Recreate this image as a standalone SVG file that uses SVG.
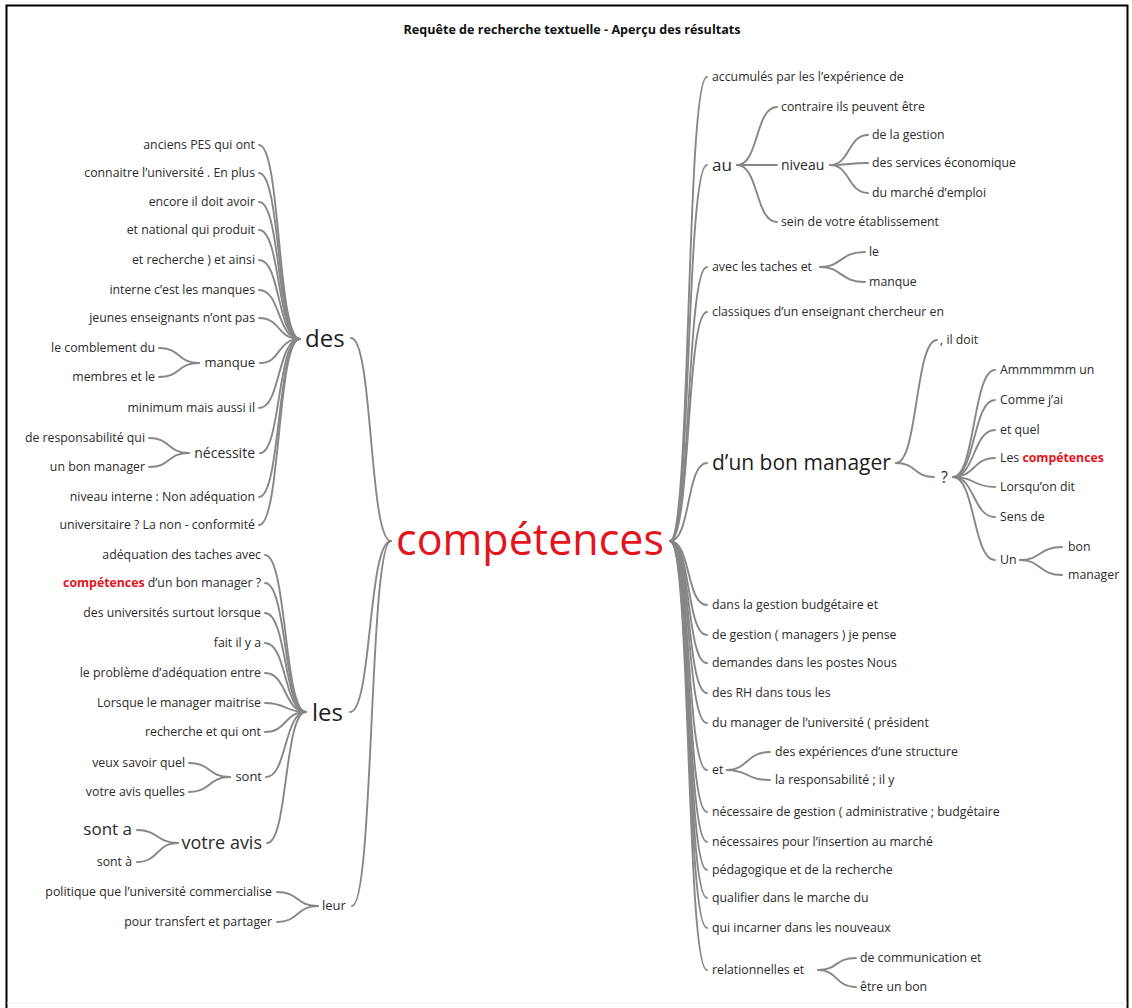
<svg xmlns="http://www.w3.org/2000/svg" width="1132" height="1008" viewBox="0 0 1132 1008">
<style>
text { font-family: "Open Sans", "Noto Sans", sans-serif; fill: #2b2b2b; font-size: 12.3px; }
.e { text-anchor: end; }
.s13 { font-size: 13px; }
.s14 { font-size: 14px; }
.s17 { font-size: 17px; }
.s18 { font-size: 18px; }
.big { font-size: 24px; fill: #1e1e1e; }
.mid { font-size: 21px; fill: #1e1e1e; }
.hl { fill: #e3141b; font-weight: bold; }
.title { font-weight: bold; font-size: 12.6px; fill: #111; text-anchor: middle; }
.center { font-size: 43px; fill: #e3141b; text-anchor: middle; }
#connectors path { fill: none; stroke: #878787; stroke-width: 1.9; stroke-linecap: round; }
.frame { stroke: #000; stroke-width: 2; fill: none; }
</style>
<rect width="1132" height="1008" fill="#fff"/>
<path class="frame" d="M6.5 1008 V5.5 H1127.5 V1008"/>
<line x1="7" y1="1003" x2="1127" y2="1003" stroke="#eee" stroke-width="1"/>
<text class="title" x="572" y="34">Requête de recherche textuelle - Aperçu des résultats</text>

<g id="connectors">
<!-- des leaves -->
<path d="M259 145 C281 145 277 339 300 339"/>
<path d="M259 173 C281 173 277 339 300 339"/>
<path d="M259 202 C281 202 277 339 300 339"/>
<path d="M259 230 C281 230 277 339 300 339"/>
<path d="M259 260 C281 260 277 339 300 339"/>
<path d="M259 290 C281 290 277 339 300 339"/>
<path d="M259 318 C281 318 277 339 300 339"/>
<path d="M260 363 C281 363 277 339 300 339"/>
<path d="M259 408 C281 408 277 339 300 339"/>
<path d="M260 453 C281 453 277 339 300 339"/>
<path d="M259 497 C281 497 277 339 300 339"/>
<path d="M259 525 C281 525 277 339 300 339"/>
<path d="M159 348 C181 348 177 363 199 363"/>
<path d="M159 377 C181 377 177 363 199 363"/>
<path d="M149 438 C171 438 167 453 189 453"/>
<path d="M149 467 C171 467 167 453 189 453"/>
<!-- les leaves -->
<path d="M265 555 C287 555 284 712 306 712"/>
<path d="M265 583 C287 583 284 712 306 712"/>
<path d="M265 613 C287 613 284 712 306 712"/>
<path d="M265 643 C287 643 284 712 306 712"/>
<path d="M265 673 C287 673 284 712 306 712"/>
<path d="M265 703 C287 703 284 712 306 712"/>
<path d="M265 732 C287 732 284 712 306 712"/>
<path d="M266 777 C287 777 284 712 306 712"/>
<path d="M267 843 C288 843 284 712 306 712"/>
<path d="M189 763 C211 763 208 777 230 777"/>
<path d="M189 792 C211 792 208 777 230 777"/>
<path d="M137 830 C159 830 156 843 178 843"/>
<path d="M137 862 C159 862 156 843 178 843"/>
<path d="M277 892 C299 892 296 906 318 906"/>
<path d="M277 922 C299 922 296 906 318 906"/>
<!-- centre left -->
<path d="M351 338 C373 338 369 541 391 541"/>
<path d="M350 712 C372 712 368 541 391 541"/>
<path d="M352 906 C374 906 369 541 391 541"/>
<!-- centre right -->
<path d="M670 541 C691 541 686 77 707 77"/>
<path d="M670 541 C691 541 686 165 707 165"/>
<path d="M670 541 C691 541 686 267 707 267"/>
<path d="M670 541 C691 541 686 312 707 312"/>
<path d="M670 541 C691 541 686 463 707 463"/>
<path d="M670 541 C691 541 686 605 707 605"/>
<path d="M670 541 C691 541 686 635 707 635"/>
<path d="M670 541 C691 541 686 663 707 663"/>
<path d="M670 541 C691 541 686 693 707 693"/>
<path d="M670 541 C691 541 686 723 707 723"/>
<path d="M670 541 C691 541 686 770 707 770"/>
<path d="M670 541 C691 541 686 812 707 812"/>
<path d="M670 541 C691 541 686 842 707 842"/>
<path d="M670 541 C691 541 686 870 707 870"/>
<path d="M670 541 C691 541 686 898 707 898"/>
<path d="M670 541 C691 541 686 928 707 928"/>
<path d="M670 541 C691 541 686 970 707 970"/>
<!-- au -->
<path d="M737 165 C759 165 755 107 777 107"/>
<path d="M737 165 C759 165 755 165 777 165"/>
<path d="M737 165 C759 165 755 222 777 222"/>
<!-- niveau -->
<path d="M830 165 C850 165 848 135 868 135"/>
<path d="M830 165 C850 165 848 163 868 163"/>
<path d="M830 165 C850 165 848 193 868 193"/>
<!-- avec -->
<path d="M820 267 C842 267 840 252 865 252"/>
<path d="M820 267 C842 267 840 282 865 282"/>
<!-- d'un bon manager -->
<path d="M896 463 C918 463 915 340 937 340"/>
<path d="M896 463 C916 463 914 477 934 477"/>
<!-- ? -->
<path d="M953 477 C975 477 973 370 995 370"/>
<path d="M953 477 C975 477 973 400 995 400"/>
<path d="M953 477 C975 477 973 430 995 430"/>
<path d="M953 477 C975 477 973 458 995 458"/>
<path d="M953 477 C975 477 973 487 995 487"/>
<path d="M953 477 C975 477 973 517 995 517"/>
<path d="M953 477 C975 477 973 560 995 560"/>
<!-- Un -->
<path d="M1020 560 C1041 560 1039 547 1062 547"/>
<path d="M1020 560 C1041 560 1039 575 1062 575"/>
<!-- et -->
<path d="M727 770 C748 770 746 752 770 752"/>
<path d="M727 770 C748 770 746 780 770 780"/>
<!-- relationnelles et -->
<path d="M818 970 C838 970 835 958 856 958"/>
<path d="M818 970 C838 970 835 987 856 987"/>
</g>

<g id="n-center"><text class="center" x="530" y="555">compétences</text></g>

<g id="n-des"><text class="big" x="305" y="347">des</text></g>
<g id="n-des-1"><text class="e" x="255" y="149">anciens PES qui ont</text></g>
<g id="n-des-2"><text class="e" x="255" y="177">connaitre l’université . En plus</text></g>
<g id="n-des-3"><text class="e" x="255" y="206">encore il doit avoir</text></g>
<g id="n-des-4"><text class="e" x="255" y="234">et national qui produit</text></g>
<g id="n-des-5"><text class="e" x="255" y="264">et recherche ) et ainsi</text></g>
<g id="n-des-6"><text class="e" x="255" y="294">interne c’est les manques</text></g>
<g id="n-des-7"><text class="e" x="255" y="322">jeunes enseignants n’ont pas</text></g>
<g id="n-manque-l"><text class="e s13" x="255" y="367">manque</text></g>
<g id="n-manque-1"><text class="e" x="155" y="352">le comblement du</text></g>
<g id="n-manque-2"><text class="e" x="155" y="381">membres et le</text></g>
<g id="n-des-8"><text class="e" x="255" y="412">minimum mais aussi il</text></g>
<g id="n-necessite"><text class="e s14" x="255" y="458">nécessite</text></g>
<g id="n-necessite-1"><text class="e" x="145" y="442">de responsabilité qui</text></g>
<g id="n-necessite-2"><text class="e" x="145" y="471">un bon manager</text></g>
<g id="n-des-9"><text class="e" x="255" y="501">niveau interne : Non adéquation</text></g>
<g id="n-des-10"><text class="e" x="255" y="529">universitaire ? La non - conformité</text></g>

<g id="n-les"><text class="big" x="312" y="721">les</text></g>
<g id="n-les-1"><text class="e" x="261" y="559">adéquation des taches avec</text></g>
<g id="n-les-2"><text class="e" x="261" y="587"><tspan class="hl">compétences</tspan> d’un bon manager ?</text></g>
<g id="n-les-3"><text class="e" x="261" y="617">des universités surtout lorsque</text></g>
<g id="n-les-4"><text class="e" x="261" y="647">fait il y a</text></g>
<g id="n-les-5"><text class="e" x="261" y="677">le problème d’adéquation entre</text></g>
<g id="n-les-6"><text class="e" x="261" y="707">Lorsque le manager maitrise</text></g>
<g id="n-les-7"><text class="e" x="261" y="736">recherche et qui ont</text></g>
<g id="n-sont"><text class="e s13" x="262" y="781">sont</text></g>
<g id="n-sont-1"><text class="e" x="185" y="767">veux savoir quel</text></g>
<g id="n-sont-2"><text class="e" x="185" y="796">votre avis quelles</text></g>
<g id="n-votre-avis"><text class="e s18" x="262" y="849">votre avis</text></g>
<g id="n-va-1"><text class="e s17" x="132" y="835">sont a</text></g>
<g id="n-va-2"><text class="e" x="132" y="866">sont à</text></g>

<g id="n-leur"><text class="s13" x="322" y="910">leur</text></g>
<g id="n-leur-1"><text class="e" x="272" y="896">politique que l’université commercialise</text></g>
<g id="n-leur-2"><text class="e" x="272" y="926">pour transfert et partager</text></g>

<g id="n-r1"><text x="712" y="81">accumulés par les l’expérience de</text></g>
<g id="n-au"><text class="s17" x="712" y="171">au</text></g>
<g id="n-au-1"><text x="781" y="111">contraire ils peuvent être</text></g>
<g id="n-niveau"><text class="s14" x="781" y="170">niveau</text></g>
<g id="n-niveau-1"><text x="872" y="139">de la gestion</text></g>
<g id="n-niveau-2"><text x="872" y="167">des services économique</text></g>
<g id="n-niveau-3"><text x="872" y="197">du marché d’emploi</text></g>
<g id="n-au-3"><text x="781" y="226">sein de votre établissement</text></g>
<g id="n-avec"><text x="712" y="271">avec les taches et</text></g>
<g id="n-avec-1"><text x="869" y="256">le</text></g>
<g id="n-avec-2"><text x="869" y="286">manque</text></g>
<g id="n-r4"><text x="712" y="316">classiques d’un enseignant chercheur en</text></g>
<g id="n-dbm"><text class="mid" x="712" y="470">d’un bon manager</text></g>
<g id="n-dbm-1"><text x="940" y="344">, il doit</text></g>
<g id="n-q"><text x="941" y="483" style="font-size:16px">?</text></g>
<g id="n-q-1"><text x="1000" y="374">Ammmmmm un</text></g>
<g id="n-q-2"><text x="1000" y="404">Comme j’ai</text></g>
<g id="n-q-3"><text x="1000" y="434">et quel</text></g>
<g id="n-q-4"><text x="1000" y="462">Les <tspan class="hl">compétences</tspan></text></g>
<g id="n-q-5"><text x="1000" y="491">Lorsqu’on dit</text></g>
<g id="n-q-6"><text x="1000" y="521">Sens de</text></g>
<g id="n-un"><text x="1000" y="564">Un</text></g>
<g id="n-un-1"><text x="1068" y="551">bon</text></g>
<g id="n-un-2"><text x="1068" y="579">manager</text></g>
<g id="n-r6"><text x="712" y="609">dans la gestion budgétaire et</text></g>
<g id="n-r7"><text x="712" y="639">de gestion ( managers ) je pense</text></g>
<g id="n-r8"><text x="712" y="667">demandes dans les postes Nous</text></g>
<g id="n-r9"><text x="712" y="697">des RH dans tous les</text></g>
<g id="n-r10"><text x="712" y="727">du manager de l’université ( président</text></g>
<g id="n-et"><text x="712" y="774">et</text></g>
<g id="n-et-1"><text x="775" y="756">des expériences d’une structure</text></g>
<g id="n-et-2"><text x="775" y="784">la responsabilité ; il y</text></g>
<g id="n-r12"><text x="712" y="816">nécessaire de gestion ( administrative ; budgétaire</text></g>
<g id="n-r13"><text x="712" y="846">nécessaires pour l’insertion au marché</text></g>
<g id="n-r14"><text x="712" y="874">pédagogique et de la recherche</text></g>
<g id="n-r15"><text x="712" y="902">qualifier dans le marche du</text></g>
<g id="n-r16"><text x="712" y="932">qui incarner dans les nouveaux</text></g>
<g id="n-rel"><text x="712" y="974">relationnelles et</text></g>
<g id="n-rel-1"><text x="860" y="962">de communication et</text></g>
<g id="n-rel-2"><text x="860" y="991">être un bon</text></g>
</svg>
